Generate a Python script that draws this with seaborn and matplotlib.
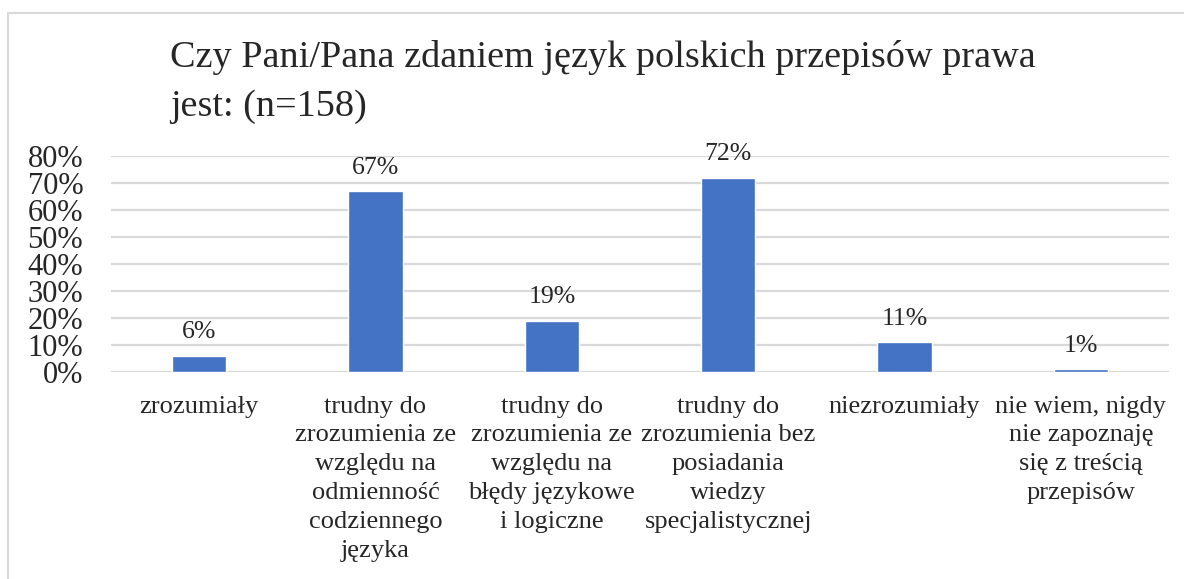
import matplotlib
matplotlib.use("Agg")
import matplotlib.pyplot as plt
import matplotlib.patches as patches
from matplotlib.ticker import PercentFormatter
import seaborn as sns
import pandas as pd

# Chart data
categories = [
    "zrozumiały",
    "trudny do\nzrozumienia ze\nwzględu na\nodmienność\ncodziennego\njęzyka",
    "trudny do\nzrozumienia ze\nwzględu na\nbłędy językowe\ni logiczne",
    "trudny do\nzrozumienia bez\nposiadania\nwiedzy\nspecjalistycznej",
    "niezrozumiały",
    "nie wiem, nigdy\nnie zapoznaję\nsię z treścią\nprzepisów",
]
values = [6, 67, 19, 72, 11, 1]
y_ticks = [0, 10, 20, 30, 40, 50, 60, 70, 80]
title_lines = ["Czy Pani/Pana zdaniem język polskich przepisów prawa",
               "jest: (n=158)"]

df = pd.DataFrame({"kategoria": categories, "procent": values})

sns.set_style("white")
plt.rcParams["font.family"] = ["Liberation Serif", "DejaVu Serif"]

fig = plt.figure(figsize=(11.84, 5.79), dpi=100)
ax = fig.add_axes([111 / 1184, 1 - 372 / 579, 1058 / 1184, 216 / 579])

sns.barplot(data=df, x="kategoria", y="procent", color="#4472C4",
            width=0.31, saturation=1, ax=ax, zorder=3)

ax.set_ylim(0, 80)
ax.set_yticks(y_ticks)
ax.yaxis.set_major_formatter(PercentFormatter(decimals=0))
ax.set_xlim(-0.5, len(categories) - 0.5)
ax.grid(axis="y", color="#D9D9D9", linewidth=1.6, zorder=0)
ax.set_axisbelow(True)
for s in ax.spines.values():
    s.set_visible(False)
ax.set_xlabel("")
ax.set_ylabel("")
ax.tick_params(axis="y", labelsize=22, length=0, pad=20)
ax.tick_params(axis="x", labelsize=19, length=0, pad=17)
for lbl in ax.get_xticklabels():
    lbl.set_linespacing(1.4)

# data labels
for i, v in enumerate(values):
    ax.annotate(f"{v}%", (i, v), xytext=(0, 9), textcoords="offset points",
                ha="center", va="bottom", fontsize=18.5)

# title, two lines
fig.text(170 / 1184, 1 - 67 / 579, title_lines[0], fontsize=27.5,
         ha="left", va="baseline")
fig.text(170 / 1184, 1 - 116 / 579, title_lines[1], fontsize=27.5,
         ha="left", va="baseline")

# chart area border
fig.patches.append(patches.Rectangle((7.5 / 1184, -0.1), 1.2, 1.1 - 13 / 579,
                                     transform=fig.transFigure, fill=False,
                                     edgecolor="#D9D9D9", linewidth=1.5))

fig.savefig("out.png", dpi=100, facecolor="white")
